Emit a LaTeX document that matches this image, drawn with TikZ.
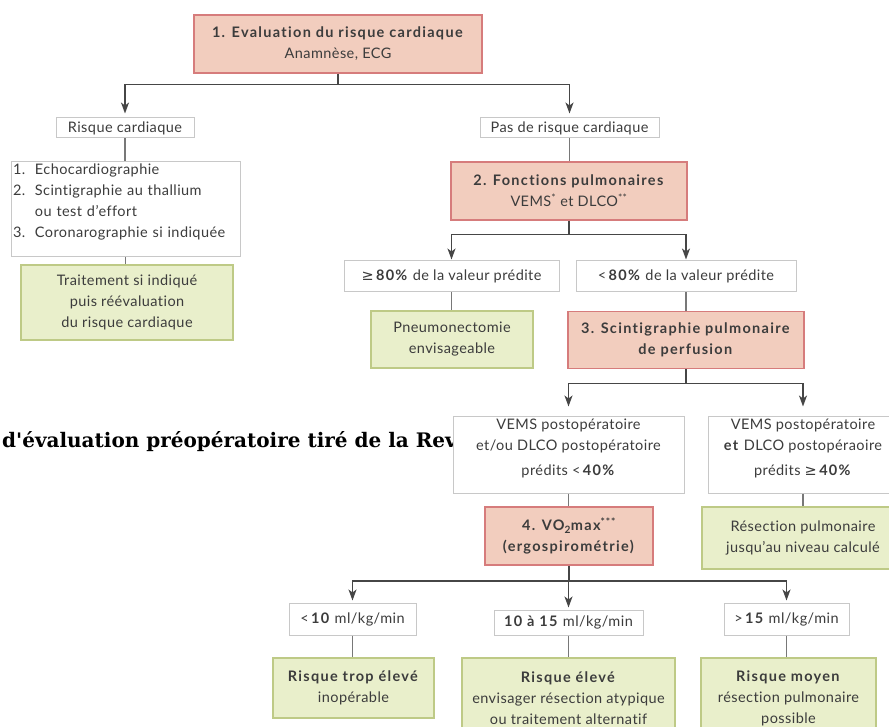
\documentclass[tikz,border=0pt]{standalone}
\usepackage{fontspec}
\setmainfont{Lato}[LetterSpace=3, RawFeature=-liga, BoldFeatures={LetterSpace=9, RawFeature=-liga}]
\newfontfamily\capfont{DejaVu Serif}
\newfontfamily\symfont{DejaVu Sans}
\usetikzlibrary{arrows.meta}

\definecolor{redfill}{RGB}{242,205,190}
\definecolor{redline}{RGB}{214,124,124}
\definecolor{greenfill}{RGB}{233,239,203}
\definecolor{greenline}{RGB}{190,202,134}
\definecolor{greyline}{RGB}{200,200,200}
\definecolor{treeline}{RGB}{70,70,70}
\definecolor{linkline}{RGB}{120,120,120}
\definecolor{textgrey}{RGB}{60,60,60}

\newcommand{\geqsym}{{\symfont ≥}}
\newcommand{\liftlines}[3]{\raisebox{#1}[0pt][0pt]{\begin{tabular}{@{}#2@{}}#3\end{tabular}}}

\begin{document}
\begin{tikzpicture}[x=1pt, y=-1pt,
    box/.style={rectangle, inner sep=0pt, align=center, text=textgrey, font=\fontsize{14.5}{21}\selectfont},
    plainbox/.style={box, draw=greyline, line width=1pt, fill=white},
    redbox/.style={box, draw=redline, line width=1.6pt, fill=redfill},
    greenbox/.style={box, draw=greenline, line width=1.6pt, fill=greenfill},
    tree/.style={-{Stealth[length=11pt, width=8pt, inset=3pt]}, draw=treeline, line width=1.4pt, shorten >=4pt},
    link/.style={draw=linkline, line width=1.4pt}
]
\useasboundingbox (0,0) rectangle (889,727);

% Caption behind the chart
\node[anchor=base west, inner sep=0pt, font=\capfont\bfseries\fontsize{20}{24}\selectfont] (caption) at (2,447) {d'évaluation préopératoire tiré de la Rev};

% Nodes
\node[redbox, minimum width=288, minimum height=58] (eval) at (338,44) {\textbf{1. Evaluation du risque cardiaque}\\Anamnèse, ECG};

\node[plainbox, minimum width=138, minimum height=20] (risk) at (125,128) {Risque cardiaque};
\node[plainbox, minimum width=229, minimum height=95, text width=225, align=left] (tests) at (125.5,209.5) {\liftlines{4pt}{l@{\ \ }l}{1.&Echocardiographie\\2.&Scintigraphie au thallium\\&ou test d'effort\\3.&Coronarographie si indiquée}};
\node[greenbox, minimum width=212, minimum height=75] (treat) at (127,302.5) {Traitement si indiqué\\puis réévaluation\\du risque cardiaque};

\node[plainbox, minimum width=179, minimum height=20] (norisk) at (569.5,128) {Pas de risque cardiaque};
\node[redbox, minimum width=236, minimum height=58] (pulm) at (569,191) {\textbf{2. Fonctions pulmonaires}\\VEMS\textsuperscript{*} et DLCO\textsuperscript{**}};

\node[plainbox, minimum width=215, minimum height=31] (ge80) at (451.5,276.5) {\geqsym\,\textbf{80\%} de la valeur prédite};
\node[plainbox, minimum width=220, minimum height=31] (lt80) at (686,276.5) {<\,\textbf{80\%} de la valeur prédite};
\node[greenbox, minimum width=162, minimum height=57] (pneumo) at (452,339.5) {Pneumonectomie\\envisageable};
\node[redbox, minimum width=236, minimum height=57] (scint) at (686,340) {\textbf{3. Scintigraphie pulmonaire}\\\textbf{de perfusion}};

\node[plainbox, minimum width=231, minimum height=77] (post1) at (568.5,454.5) {\liftlines{3pt}{c}{VEMS postopératoire\\et/ou DLCO postopératoire\\[4pt]prédits <\,\textbf{40\%}}};
\node[plainbox, minimum width=190, minimum height=77] (post2) at (803,454.5) {\liftlines{3pt}{c}{VEMS postopératoire\\\textbf{et} DLCO postopéraoire\\[4pt]prédits \geqsym\,\textbf{40\%}}};
\node[redbox, minimum width=168, minimum height=58] (vo2) at (569,536) {\textbf{4. VO\textsubscript{2}max\textsuperscript{***}}\\\textbf{(ergospirométrie)}};
\node[greenbox, minimum width=202, minimum height=62] (resec) at (803,538) {Résection pulmonaire\\jusqu'au niveau calculé};

\node[plainbox, minimum width=127, minimum height=32] (lt10) at (352.5,619) {<\,\textbf{10} ml/kg/min};
\node[plainbox, minimum width=149, minimum height=25] (mid) at (568.5,622.5) {\textbf{10 à 15} ml/kg/min};
\node[plainbox, minimum width=125, minimum height=32] (gt15) at (786.5,619) {>\,\textbf{15} ml/kg/min};
\node[greenbox, minimum width=161, minimum height=60] (trop) at (353.5,688) {\textbf{Risque trop élevé}\\inopérable};
\node[greenbox, minimum width=213, minimum height=80] (eleve) at (568.5,698) {\textbf{Risque élevé}\\envisager résection atypique\\ou traitement alternatif};
\node[greenbox, minimum width=175, minimum height=80] (moyen) at (788.5,698) {\textbf{Risque moyen}\\résection pulmonaire\\possible};

% Branches with arrows
\draw[tree] (eval.south) -- ++(0,11) -| (risk.north);
\draw[tree] (eval.south) -- ++(0,11) -| (norisk.north);
\draw[tree, shorten >=1pt] (pulm.south) -- ++(0,14) -| (ge80.north);
\draw[tree, shorten >=1pt] (pulm.south) -- ++(0,14) -| (lt80.north);
\draw[tree, shorten >=9pt] (scint.south) -- ++(0,14) -| (post1.north);
\draw[tree, shorten >=9pt] (scint.south) -- ++(0,14) -| (post2.north);
\draw[tree, shorten >=2pt] (vo2.south) -- ++(0,15) -| (lt10.north);
\draw[tree, shorten >=2pt] (vo2.south) -- ++(0,15) -| (mid.north);
\draw[tree, shorten >=2pt] (vo2.south) -- ++(0,15) -| (gt15.north);

% Plain links
\draw[link] (risk.south) -- (risk.south |- tests.north);
\draw[link] (tests.south) -- (tests.south |- treat.north);
\draw[link] (norisk.south) -- (norisk.south |- pulm.north);
\draw[link] (ge80.south) -- (ge80.south |- pneumo.north);
\draw[link] (lt80.south) -- (lt80.south |- scint.north);
\draw[link] (post1.south) -- (post1.south |- vo2.north);
\draw[link] (post2.south) -- (post2.south |- resec.north);
\draw[link] (lt10.south) -- (lt10.south |- trop.north);
\draw[link] (mid.south) -- (mid.south |- eleve.north);
\draw[link] (gt15.south) -- (gt15.south |- moyen.north);

\end{tikzpicture}
\end{document}
